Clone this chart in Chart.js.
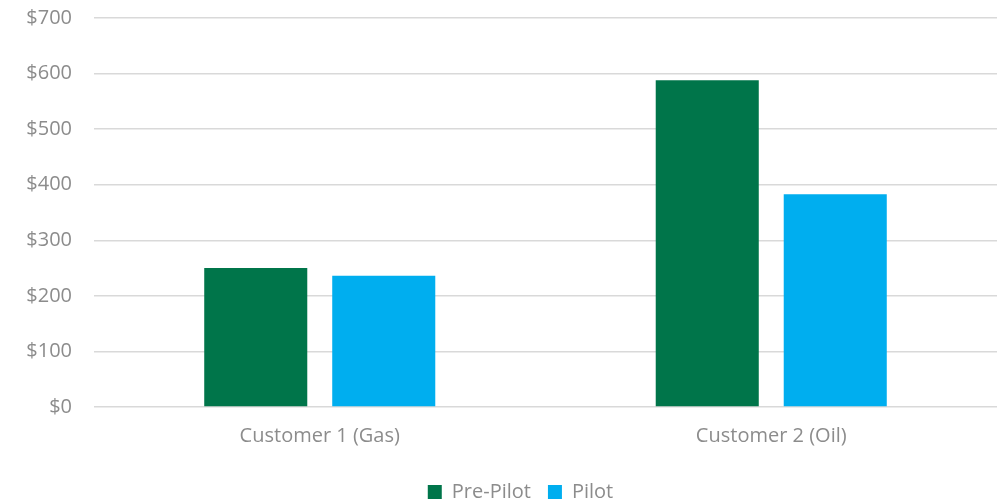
<!DOCTYPE html>
<html>
<head>
<meta charset="utf-8">
<script src="https://cdn.jsdelivr.net/npm/chart.js@4"></script>
<style>
  html, body { margin: 0; padding: 0; background: #ffffff; }
  #wrap { width: 998px; height: 501px; position: relative; }
</style>
</head>
<body>
<div id="wrap"><canvas id="chart"></canvas></div>
<script>
const categories = ['Customer 1 (Gas)', 'Customer 2 (Oil)'];
const prePilot = [250, 588];
const pilot = [236, 383];
const yTicks = [0, 100, 200, 300, 400, 500, 600, 700];

const textColor = '#8c8c8c';
Chart.defaults.font.family = "'Open Sans', 'Liberation Sans', sans-serif";
Chart.defaults.color = textColor;

// legend sits a bit right of the page centre in the original
const legendShift = {
    id: 'legendShift',
    afterLayout: function (chart) {
        chart.legend.left += 22;
        chart.legend.right += 22;
    }
};

new Chart(document.getElementById('chart'), {
    type: 'bar',
    data: {
        labels: categories,
        datasets: [{
            label: 'Pre-Pilot',
            data: prePilot,
            backgroundColor: '#00754a',
            categoryPercentage: 0.567,
            barPercentage: 0.805
        }, {
            label: 'Pilot',
            data: pilot,
            backgroundColor: '#00aeef',
            categoryPercentage: 0.567,
            barPercentage: 0.805
        }]
    },
    options: {
        responsive: true,
        maintainAspectRatio: false,
        animation: false,
        layout: {
            padding: { top: 18, right: 1, left: 0, bottom: -11 }
        },
        scales: {
            y: {
                min: yTicks[0],
                max: yTicks[yTicks.length - 1],
                afterFit: function (scale) { scale.width = 94; },
                afterBuildTicks: function (scale) {
                    scale.ticks = yTicks.map(function (v) { return { value: v }; });
                },
                ticks: {
                    padding: 0,
                    font: { size: 20 },
                    color: textColor,
                    callback: function (v) { return '$' + v; }
                },
                grid: {
                    color: '#d9d9d9',
                    lineWidth: 1.5,
                    drawTicks: true,
                    tickLength: 22,
                    tickColor: 'rgba(0,0,0,0)'
                },
                border: { display: false }
            },
            x: {
                ticks: { font: { size: 20 }, color: textColor, padding: 17 },
                grid: { display: false, drawTicks: false },
                border: { display: false }
            }
        },
        plugins: {
            legend: {
                position: 'bottom',
                labels: {
                    boxWidth: 14,
                    boxHeight: 14,
                    padding: 17,
                    font: { size: 20, lineHeight: 1 },
                    color: textColor
                }
            },
            tooltip: { enabled: false }
        }
    },
    plugins: [legendShift]
});
</script>
</body>
</html>
